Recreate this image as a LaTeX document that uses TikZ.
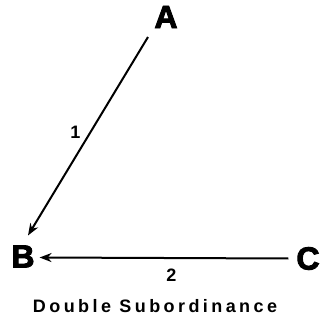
\documentclass[tikz,border=0pt]{standalone}
\usepackage{fontspec}
\setmainfont{Liberation Sans}
\usetikzlibrary{arrows.meta}
\begin{document}
\begin{tikzpicture}[x=1pt,y=-1pt,
  letter/.style={font=\fontsize{32}{32}\selectfont\bfseries\addfontfeature{FakeBold=3}, inner sep=0pt, outer sep=0pt},
  num/.style={font=\fontsize{18}{18}\selectfont\bfseries, inner sep=0pt},
  link/.style={line width=2pt, -{Stealth[length=12pt,width=9pt]}}]
\useasboundingbox (0,0) rectangle (327,321);
\node[letter] (A) at (166,17) {A};
\node[letter] (B) at (23,256.5) {B};
\node[letter] (C) at (308,258.5) {C};
\draw[link] ([shift={(-18pt,-9pt)}]A.south) -- ([shift={(5pt,10pt)}]B.north)
  node[num, pos=0.48, left=9pt] (n1) {1};
\draw[link] ([shift={(-8pt,0pt)}]C.west) -- ([shift={(5pt,-1pt)}]B.east)
  node[num, pos=0.47, below=10pt] (n2) {2};
\node[font=\fontsize{18}{18}\selectfont\bfseries\addfontfeature{LetterSpace=19}, inner sep=0pt] (t) at (155,306) {Double Subordinance};
\end{tikzpicture}
\end{document}
